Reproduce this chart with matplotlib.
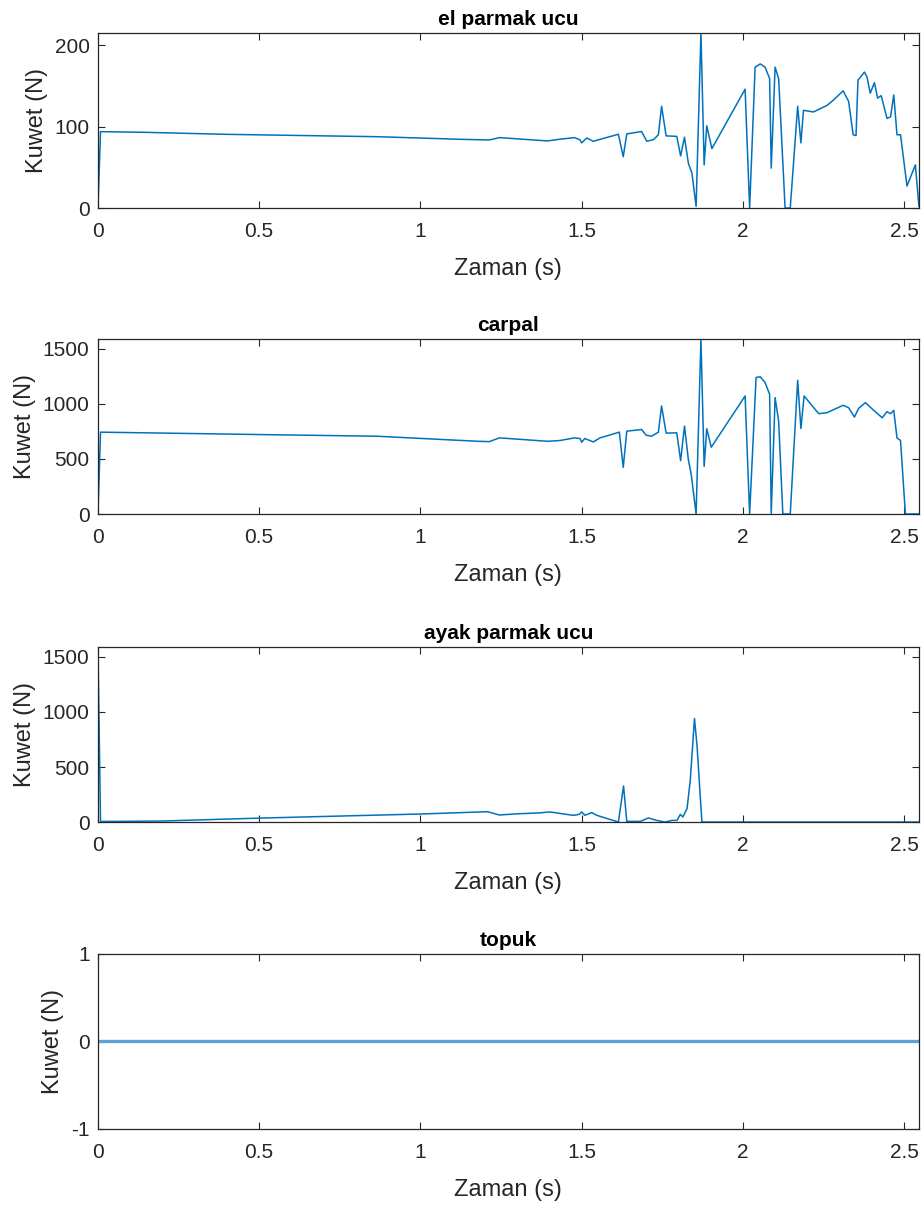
import matplotlib
matplotlib.use("Agg")
import matplotlib.pyplot as plt

# --- ölçüm verileri: zaman (s) ve kuvvet (N) ---
t_el = [0, 0.008, 0.143, 0.40, 0.866, 1.125, 1.214, 1.245, 1.394, 1.433, 1.478, 1.495,
        1.500, 1.516, 1.536, 1.614, 1.629, 1.640, 1.686, 1.702, 1.723, 1.738, 1.748,
        1.762, 1.795, 1.807, 1.819, 1.831, 1.842, 1.855, 1.870, 1.880, 1.888, 1.904,
        2.007, 2.021, 2.038, 2.054, 2.069, 2.083, 2.088, 2.100, 2.111, 2.131, 2.147,
        2.170, 2.180, 2.188, 2.219, 2.261, 2.282, 2.311, 2.328, 2.342, 2.351, 2.357,
        2.377, 2.385, 2.395, 2.408, 2.418, 2.429, 2.447, 2.458, 2.468, 2.478, 2.489,
        2.509, 2.535, 2.546]
f_el = [0, 93.8, 93, 90.5, 87.6, 84.4, 83.6, 86.5, 82.4, 84.5, 86.5, 83.7,
        80, 86, 82, 90.6, 63, 91, 94, 82, 84, 90, 125,
        88.6, 88, 64, 87, 55, 43, 2, 215, 53, 101, 73,
        146, 0, 173, 177, 173, 159, 49, 173, 159, 0, 0,
        125, 80, 120, 118, 126, 133, 144, 131, 90, 89, 157,
        167, 161, 141, 154, 135, 138, 110, 112, 139, 90, 90,
        27, 53, 2]

t_carpal = [0, 0.008, 0.143, 0.505, 0.866, 1.177, 1.214, 1.245, 1.394, 1.433, 1.478,
            1.495, 1.500, 1.510, 1.536, 1.557, 1.617, 1.629, 1.640, 1.686, 1.700, 1.717,
            1.738, 1.748, 1.762, 1.795, 1.807, 1.819, 1.831, 1.840, 1.855, 1.870, 1.880,
            1.888, 1.902, 2.007, 2.021, 2.041, 2.054, 2.069, 2.083, 2.088, 2.100, 2.111,
            2.124, 2.147, 2.170, 2.180, 2.190, 2.235, 2.261, 2.311, 2.328, 2.346, 2.359,
            2.380, 2.406, 2.432, 2.447, 2.458, 2.468, 2.478, 2.489, 2.504, 2.546]
f_carpal = [0, 744, 738, 722, 707, 661, 658, 692, 661, 668, 692,
            686, 652, 686, 655, 692, 744, 424, 753, 768, 716, 707,
            744, 982, 735, 738, 485, 799, 494, 357, 0, 1591, 433,
            775, 607, 1073, 0, 1241, 1247, 1195, 1088, 6, 1058, 845,
            0, 0, 1216, 777, 1073, 912, 921, 988, 966, 881, 960,
            1012, 942, 875, 930, 912, 942, 692, 668, 0, 0]

t_ayak = [0, 0.008, 0.195, 0.505, 1.0, 1.208, 1.245, 1.30, 1.370, 1.401, 1.474, 1.493,
          1.500, 1.510, 1.531, 1.547, 1.614, 1.630, 1.640, 1.682, 1.707, 1.733, 1.759,
          1.780, 1.796, 1.806, 1.814, 1.827, 1.837, 1.850, 1.858, 1.873, 2.546]
f_ayak = [1590, 5, 9, 36, 73, 94, 64, 75, 83, 92, 61, 70,
          92, 61, 86, 61, 0, 328, 6, 6, 37, 15, 0,
          15, 15, 70, 46, 123, 383, 941, 690, 0, 0]

t_topuk = [0, 2.546]
f_topuk = [0, 0]

titles = ["el parmak ucu", "carpal", "ayak parmak ucu", "topuk"]
xticks = [0, 0.5, 1, 1.5, 2, 2.5]
xticklabels = ["0", "0.5", "1", "1.5", "2", "2.5"]
yticks = [[0, 100, 200], [0, 500, 1000, 1500], [0, 500, 1000, 1500], [-1, 0, 1]]

plt.rcParams["font.family"] = ["Liberation Sans", "DejaVu Sans"]
plt.rcParams["axes.unicode_minus"] = False

fig = plt.figure(figsize=(9.24, 12.08), dpi=100)
bottoms = [0.8278, 0.5745, 0.3195, 0.0654]
series = [(t_el, f_el), (t_carpal, f_carpal), (t_ayak, f_ayak), (t_topuk, f_topuk)]

for i, ((t, f), title) in enumerate(zip(series, titles)):
    ax = fig.add_axes([0.106, bottoms[i], 0.8885, 0.1449])
    if i == 3:
        ax.plot(t, f, color="#5aa2d8", lw=2.4)
        ax.set_ylim(-1, 1)
    else:
        ax.plot(t, f, color="#0072BD", lw=1.1)
        ax.set_ylim(min(f), max(f))
    ax.set_xlim(0, t[-1])
    ax.set_xticks(xticks)
    ax.set_xticklabels(xticklabels)
    ax.set_yticks(yticks[i])
    ax.tick_params(direction="in", length=5, width=0.8, top=True, right=True,
                   labelsize=15, colors="#262626")
    ax.tick_params(axis="x", pad=10)
    ax.tick_params(axis="y", pad=6)
    for s in ax.spines.values():
        s.set_color("#262626")
        s.set_linewidth(0.9)
    ax.set_title(title, fontsize=15, fontweight="bold", color="black", pad=6)
    ax.set_xlabel("Zaman (s)", fontsize=17, color="#262626", labelpad=12)
    ax.set_ylabel("Kuwet (N)", fontsize=17, color="#262626", labelpad=5)

fig.savefig("out.png", dpi=100)
